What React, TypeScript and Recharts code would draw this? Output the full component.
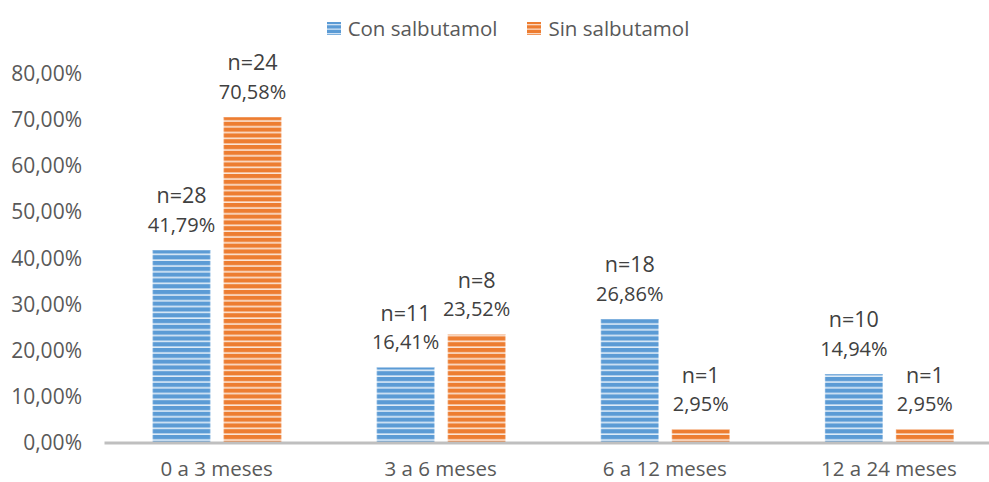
import { BarChart, Bar, XAxis, YAxis, Legend, LabelList } from "recharts";

const categories = ["0 a 3 meses", "3 a 6 meses", "6 a 12 meses", "12 a 24 meses"];
const conSalbutamol = [41.79, 16.41, 26.86, 14.94];
const sinSalbutamol = [70.58, 23.52, 2.95, 2.95];
const nCon = [28, 11, 18, 10];
const nSin = [24, 8, 1, 1];
const yTicks = [0, 10, 20, 30, 40, 50, 60, 70, 80];

const BLUE = "#5B9BD5";
const ORANGE = "#ED7D31";
const FONT = "'Open Sans', sans-serif";

const data = categories.map((c, i) => ({
  cat: c,
  con: conSalbutamol[i],
  sin: sinSalbutamol[i],
}));

const pct = (v: number) => v.toFixed(2).replace(".", ",") + "%";

// two-line label above each bar: count, then percentage
const makeLabel = (counts: number[]) => (props: any) => {
  const { x, y, width, value, index } = props;
  const cx = Number(x) + Number(width) / 2;
  return (
    <g fontFamily={FONT} fill="#404040" textAnchor="middle">
      <text x={cx} y={Number(y) - 46.5} fontSize={21.5}>
        n={counts[index]}
      </text>
      <text x={cx} y={Number(y) - 18} fontSize={20}>
        {pct(Number(value))}
      </text>
    </g>
  );
};

const Swatch = ({ color }: { color: string }) => (
  <svg width={14} height={13} style={{ marginRight: 7 }}>
    <rect width={14} height={13} fill={color} />
    {[3, 7.5, 12].map((yy) => (
      <rect key={yy} y={yy - 1} width={14} height={1.3} fill="#fff" opacity={0.7} />
    ))}
  </svg>
);

const renderLegend = () => (
  <div
    style={{
      display: "flex",
      justifyContent: "center",
      alignItems: "center",
      paddingLeft: 15,
      fontFamily: FONT,
      fontSize: 20.5,
      color: "#595959",
    }}
  >
    <span style={{ display: "flex", alignItems: "center", marginRight: 30 }}>
      <Swatch color={BLUE} />
      Con salbutamol
    </span>
    <span style={{ display: "flex", alignItems: "center" }}>
      <Swatch color={ORANGE} />
      Sin salbutamol
    </span>
  </div>
);

export default function App() {
  return (
    <div
      style={{
        position: "absolute",
        left: 0,
        top: 0,
        width: 989,
        height: 482,
        overflow: "hidden",
        background: "#fff",
      }}
    >
      <BarChart
        width={1001}
        height={482}
        data={data}
        margin={{ top: 73.4, right: 0, bottom: 0, left: 0 }}
        barGap={13}
        barSize={58}
      >
        <defs>
          <pattern id="stripeBlue" patternUnits="userSpaceOnUse" width={10} height={5.8}>
            <rect width={10} height={5.8} fill={BLUE} />
            <rect y={4.2} width={10} height={1.6} fill="#fff" opacity={0.8} />
          </pattern>
          <pattern id="stripeOrange" patternUnits="userSpaceOnUse" width={10} height={5.8}>
            <rect width={10} height={5.8} fill={ORANGE} />
            <rect y={4.2} width={10} height={1.6} fill="#fff" opacity={0.8} />
          </pattern>
        </defs>
        <XAxis
          dataKey="cat"
          height={39}
          axisLine={{ stroke: "#BFBFBF", strokeWidth: 3 }}
          tickLine={false}
          tickSize={0}
          tickMargin={18}
          tick={{ fill: "#595959", fontSize: 20.5, fontFamily: FONT }}
          interval={0}
        />
        <YAxis
          width={104.5}
          domain={[0, 80]}
          ticks={yTicks}
          axisLine={false}
          tickLine={false}
          tickSize={0}
          tickMargin={22.5}
          tickFormatter={pct}
          tick={{ fill: "#595959", fontSize: 21, fontFamily: FONT }}
        />
        <Legend
          layout="horizontal"
          verticalAlign="middle"
          align="center"
          content={renderLegend}
          wrapperStyle={{ top: 14, left: 0, width: 1001 }}
        />
        <Bar
          dataKey="con"
          name="Con salbutamol"
          fill="url(#stripeBlue)"
          stroke="#fff"
          strokeOpacity={0.3}
          strokeWidth={1.5}
          isAnimationActive={false}
        >
          <LabelList dataKey="con" content={makeLabel(nCon)} />
        </Bar>
        <Bar
          dataKey="sin"
          name="Sin salbutamol"
          fill="url(#stripeOrange)"
          stroke="#fff"
          strokeOpacity={0.3}
          strokeWidth={1.5}
          isAnimationActive={false}
        >
          <LabelList dataKey="sin" content={makeLabel(nSin)} />
        </Bar>
      </BarChart>
    </div>
  );
}
